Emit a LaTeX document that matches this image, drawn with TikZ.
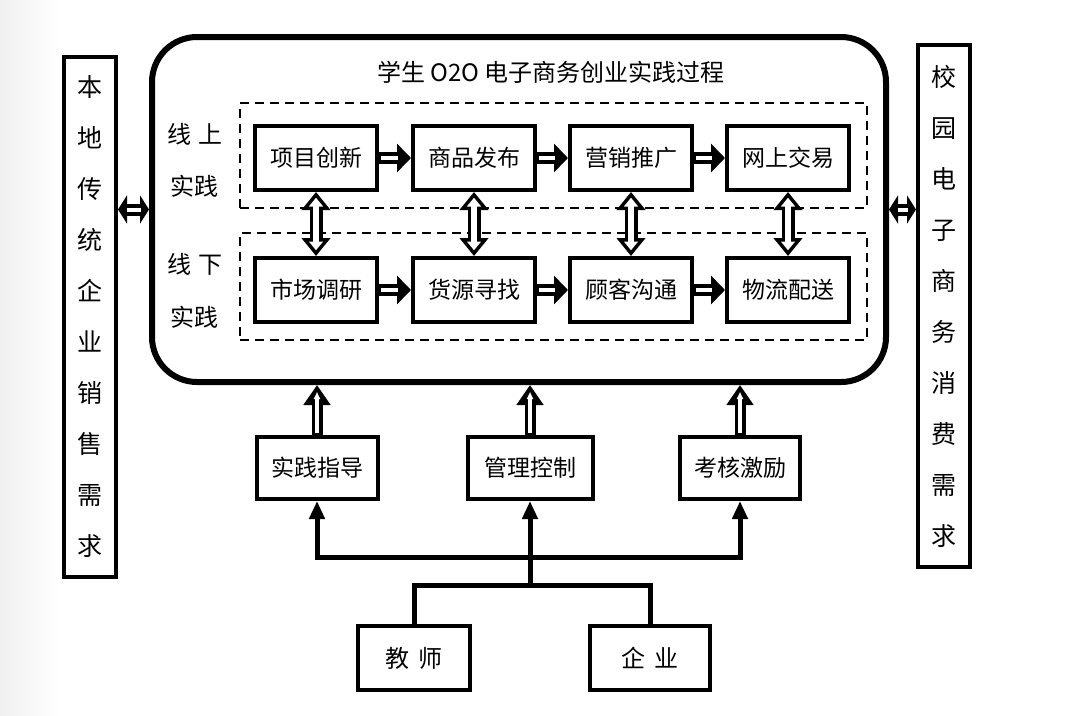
\documentclass[tikz,border=0pt]{standalone}
\usepackage{fontspec}
\newfontfamily\cjk{Noto Sans CJK SC}
\usetikzlibrary{arrows.meta,calc}
\begin{document}
\begin{tikzpicture}[x=1pt,y=-1pt,
  box/.style={draw, line width=4pt, minimum width=122pt, minimum height=64pt, inner sep=0pt, font=\cjk\fontsize{23}{23}\selectfont},
  sidebox/.style={draw, line width=4pt, minimum width=52pt, inner sep=0pt, align=center, font=\cjk\fontsize{25}{51}\selectfont},
  dashbox/.style={draw, line width=2.5pt, dash pattern=on 9pt off 6pt, minimum width=627pt, inner sep=0pt},
  lbl/.style={font=\cjk\fontsize{24}{24}\selectfont},
  harr/.style={line width=12pt, -{Triangle[length=14pt,width=28pt]}},
  hin/.style={draw=white, line width=4pt},
  sdarr/.style={line width=12pt, {Triangle[length=9pt,width=28pt]}-{Triangle[length=9pt,width=28pt]},
    postaction={draw=white, line width=4pt, -, shorten >=8.5pt, shorten <=8.5pt}},
  vdarr/.style={line width=13pt, {Triangle[length=18pt,width=28pt]}-{Triangle[length=18pt,width=28pt]},
    postaction={draw=white, line width=6pt, {Triangle[length=8.8pt,width=13.7pt]}-{Triangle[length=8.8pt,width=13.7pt]}, shorten >=5.7pt, shorten <=5.7pt}},
  uparr/.style={line width=11pt, -{Triangle[length=20pt,width=26pt]},
    postaction={draw=white, line width=4pt, -{Triangle[length=7pt,width=6pt]}, shorten >=7pt, shorten <=2pt}},
  bus/.style={line width=5pt, line join=miter},
  busarr/.style={bus, -{Triangle[length=18pt,width=15pt]}}
]
\useasboundingbox (0,0) rectangle (1086,715);
\fill[left color=black!6, right color=white] (0,0) rectangle (60,715);

% big rounded frame
\node[draw, line width=6pt, rounded corners=45pt, minimum width=734pt, minimum height=345pt] (big) at (519,209.5) {};
\node[lbl] (title) at (551,72) {学生 O2O 电子商务创业实践过程};

% side boxes
\node[sidebox, minimum height=520pt, fill=white] (lb) at (90,317) {本\\地\\传\\统\\企\\业\\销\\售\\需\\求};
\node[sidebox, minimum height=522pt] (rb) at (944,306) {校\\园\\电\\子\\商\\务\\消\\费\\需\\求};

% dashed groups
\node[dashbox, minimum height=105pt] (on) at (553.5,155.5) {};
\node[dashbox, minimum height=107pt] (off) at (553.5,286.5) {};
\node[lbl] (onA) at (195,134) {线\hspace{8pt}上};
\node[lbl] (onB) at (194,186) {实践};
\node[lbl] (offA) at (195,264) {线\hspace{8pt}下};
\node[lbl] (offB) at (194,317) {实践};

% rows
\node[box] (u1) at (316,158) {项目创新};
\node[box] (u2) at (474,158) {商品发布};
\node[box] (u3) at (631,158) {营销推广};
\node[box] (u4) at (788,158) {网上交易};
\node[box] (d1) at (316,290) {市场调研};
\node[box] (d2) at (474,290) {货源寻找};
\node[box] (d3) at (631,290) {顾客沟通};
\node[box] (d4) at (788,290) {物流配送};

\foreach \a/\b in {u1/u2,u2/u3,u3/u4,d1/d2,d2/d3,d3/d4}{
  \draw[harr] (\a.east) -- (\b.west);
  \draw[hin] ($(\a.east)+(2,0)$) -- ($(\b.west)+(-13.5,0)$);
}

\draw[vdarr] (u1.south) -- (d1.north);
\draw[vdarr] (u2.south) -- (d2.north);
\draw[vdarr] (u3.south) -- (d3.north);
\draw[vdarr] (u4.south) -- (d4.north);

% side connectors
\draw[sdarr] (lb.east |- big.west) -- (big.west);
\draw[sdarr] (big.east) -- (rb.west |- big.east);

% bottom boxes
\node[box, minimum width=121pt, minimum height=62pt] (b1) at (317,468) {实践指导};
\node[box, minimum width=125pt, minimum height=62pt] (b2) at (530,468) {管理控制};
\node[box, minimum width=120pt, minimum height=62pt] (b3) at (740,468) {考核激励};

\draw[uparr] (b1.north) -- (b1.north |- big.south);
\draw[uparr] (b2.north) -- (b2.north |- big.south);
\draw[uparr] (b3.north) -- (b3.north |- big.south);

% sources
\node[box, minimum width=112pt, minimum height=64pt, font=\cjk\fontsize{24}{24}\selectfont] (t) at (414,658) {教\hspace{10pt}师};
\node[box, minimum width=120pt, minimum height=64pt, font=\cjk\fontsize{24}{24}\selectfont] (q) at (650,658) {企\hspace{10pt}业};

\coordinate (ja) at (530,557);
\coordinate (jb) at (530,585);
\draw[bus] (t.north) |- (jb) -| (q.north);
\draw[bus] (jb) -- (ja);
\draw[busarr] (ja) -- (b2.south);
\draw[busarr] (ja) -| (b1.south);
\draw[busarr] (ja) -| (b3.south);
\end{tikzpicture}
\end{document}
